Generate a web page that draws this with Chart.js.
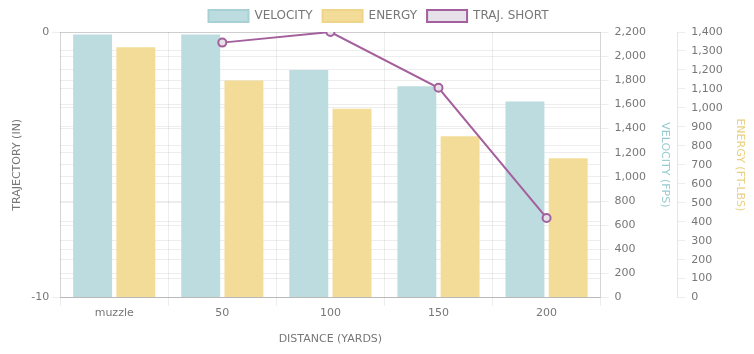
<!DOCTYPE html>
<html>
<head>
<meta charset="utf-8">
<script src="https://cdn.jsdelivr.net/npm/chart.js@4/dist/chart.umd.min.js"></script>
<style>
  html, body { margin: 0; padding: 0; background: #fff; }
  #wrap { width: 754px; height: 354px; }
</style>
</head>
<body>
<div id="wrap"><canvas id="chart"></canvas></div>
<script>
const distances = ['muzzle', '50', '100', '150', '200'];
const velocity = [2180, 2180, 1885, 1750, 1625];
const energy = [1320, 1145, 995, 850, 735];
const trajShort = [null, -0.4, 0, -2.1, -7.0];

const grey = '#777';
const gridColor = 'rgba(0,0,0,0.07)';
Chart.defaults.font.family = '"DejaVu Sans", sans-serif';
Chart.defaults.font.size = 11;
Chart.defaults.color = grey;

new Chart(document.getElementById('chart'), {
  type: 'bar',
  data: {
    labels: distances,
    datasets: [
      { label: 'VELOCITY', data: velocity, yAxisID: 'velocity', order: 1,
        backgroundColor: '#bcdcdf', borderColor: '#a9d1d5', borderWidth: 0 },
      { label: 'ENERGY', data: energy, yAxisID: 'energy', order: 2,
        backgroundColor: '#f2dc97', borderColor: '#eed58a', borderWidth: 0 },
      { label: 'TRAJ. SHORT', type: 'line', data: trajShort, yAxisID: 'y', order: 0,
        borderColor: '#a3609d', backgroundColor: '#e7e1ea', borderWidth: 2,
        pointRadius: 4, pointBorderWidth: 2, pointBackgroundColor: '#e7e1ea', tension: 0 }
    ]
  },
  options: {
    responsive: true,
    maintainAspectRatio: false,
    animation: false,
    layout: { padding: { left: 7, right: 4, top: 0, bottom: 8 } },
    plugins: {
      legend: {
        labels: { boxWidth: 40, boxHeight: 12, color: grey, padding: 10, font: { size: 12 },
          sort: (a, b) => a.datasetIndex - b.datasetIndex,
          generateLabels(chart) {
            const items = Chart.defaults.plugins.legend.labels.generateLabels(chart);
            items.forEach(it => { it.lineWidth = 2; });
            return items;
          }
        }
      },
      tooltip: { enabled: false }
    },
    scales: {
      x: {
        grid: { color: gridColor },
        ticks: { padding: 1 },
        title: { display: true, text: 'DISTANCE (YARDS)', color: grey, padding: { top: 12, bottom: 0 } }
      },
      y: {
        position: 'left', min: -10, max: 0,
        ticks: { stepSize: 10 },
        grid: { color: gridColor },
        title: { display: true, text: 'TRAJECTORY (IN)', color: grey }
      },
      velocity: {
        position: 'right', min: 0, max: 2200,
        ticks: { stepSize: 200, padding: 6 },
        grid: { color: gridColor },
        title: { display: true, text: 'VELOCITY (FPS)', color: '#98cbd0', padding: 6 }
      },
      energy: {
        position: 'right', min: 0, max: 1400,
        ticks: { stepSize: 100, padding: 6 },
        grid: { color: gridColor },
        title: { display: true, text: 'ENERGY (FT-LBS)', color: '#ead07e' }
      }
    }
  }
});
</script>
</body>
</html>
